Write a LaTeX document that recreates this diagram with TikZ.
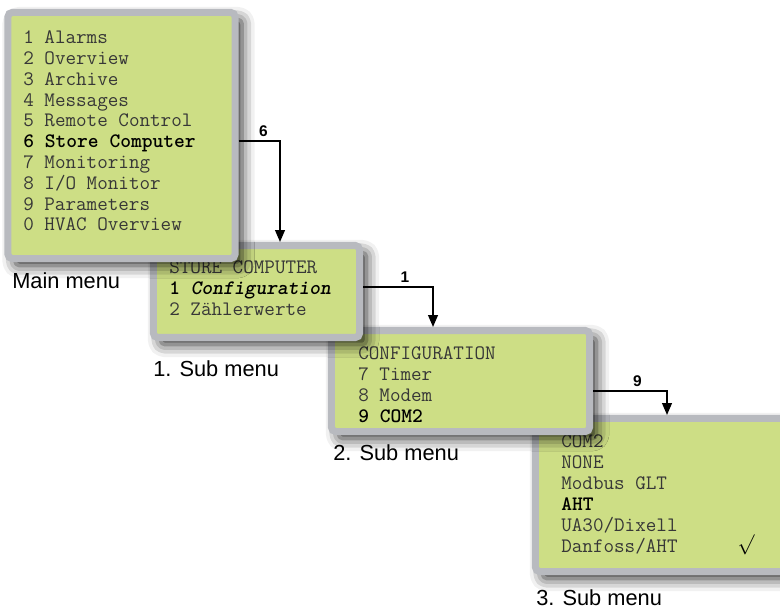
\documentclass[tikz,border=0pt]{standalone}
\usepackage{fontspec}
\setmainfont{Liberation Sans}
\usetikzlibrary{positioning, calc, arrows.meta, shadows.blur}

\definecolor{lcdgreen}{RGB}{205,222,133}
\definecolor{lcdframe}{RGB}{184,186,191}
\definecolor{lcdink}{RGB}{55,55,55}

\begin{document}
\begin{tikzpicture}[
    x=0.025cm, y=-0.025cm,
    lcd/.style={rectangle, draw=lcdframe, fill=lcdgreen, line width=5pt, rounded corners=3pt, inner sep=0pt, outer sep=2.5pt,
        blur shadow={shadow xshift=5pt, shadow yshift=-5pt, shadow blur radius=9pt, shadow opacity=85}},
    lcdtext/.style={anchor=base west, align=left, inner sep=0pt, text=lcdink, font={\ttfamily\fontsize{14.6pt}{14.8pt}\selectfont}},
    caption/.style={anchor=base west, inner sep=0pt, font={\fontsize{15.5pt}{18pt}\selectfont}},
    arrow/.style={-{Triangle[width=7pt, length=8.5pt]}, line width=1.1pt, black},
    keylabel/.style={pos=0.6, above, inner sep=2.5pt, font={\fontsize{11pt}{13pt}\selectfont\bfseries}}
]
    \useasboundingbox (0,0) rectangle (780,609);
    \clip (0,0) rectangle (780,609);

    % 3. sub menu (runs off to the right)
    \node[lcd, minimum width=7.35cm, minimum height=3.825cm] (sub3) at (682.5,495) {};
    \node[lcdtext] (sub3text) at (561,552)
        {COM2\\NONE\\Modbus GLT\\\textcolor{black}{\textbf{AHT}}\\UA30/Dixell\\Danfoss/AHT};
    \node[inner sep=0pt, font={\fontsize{14pt}{16pt}\selectfont}] (tick) at (746,545) {$\surd$};

    % 2. sub menu
    \node[lcd, minimum width=6.45cm, minimum height=2.525cm] (sub2) at (460.5,381) {};
    \node[lcdtext] (sub2text) at (358,422)
        {CONFIGURATION\\7 Timer\\8 Modem\\\textcolor{black}{\textbf{9 COM2}}};

    % 1. sub menu
    \node[lcd, minimum width=5.15cm, minimum height=2.3cm] (sub1) at (256.5,291.5) {};
    \node[lcdtext] (sub1text) at (169,315)
        {STORE COMPUTER\\\textcolor{black}{\textbf{1 \textit{Configuration}}}\\2 Zählerwerte};

    % main menu
    \node[lcd, minimum width=5.675cm, minimum height=6.15cm] (main) at (121.5,135.5) {};
    \node[lcdtext] (maintext) at (23,231)
        {1 Alarms\\2 Overview\\3 Archive\\4 Messages\\5 Remote Control\\
         \textcolor{black}{\textbf{6 Store Computer}}\\7 Monitoring\\8 I/O Monitor\\9 Parameters\\0 HVAC Overview};

    % captions
    \node[caption] (maincap) at (12,289) {Main menu};
    \node[caption] (sub1cap) at (153,376) {1. Sub menu};
    \node[caption] (sub2cap) at (333,460) {2. Sub menu};
    \node[caption] (sub3cap) at (536,605) {3. Sub menu};

    % key presses between the menus
    \coordinate (turn6) at (280,141);
    \draw[arrow] (main.east |- turn6) -- node[keylabel] {6} (turn6) -- (turn6 |- sub1.north);

    \coordinate (turn1) at (433,287);
    \draw[arrow] (sub1.east |- turn1) -- node[keylabel] {1} (turn1) -- (turn1 |- sub2.north);

    \coordinate (turn9) at (667,391);
    \draw[arrow] (sub2.east |- turn9) -- node[keylabel] {9} (turn9) -- (turn9 |- sub3.north);

\end{tikzpicture}
\end{document}
